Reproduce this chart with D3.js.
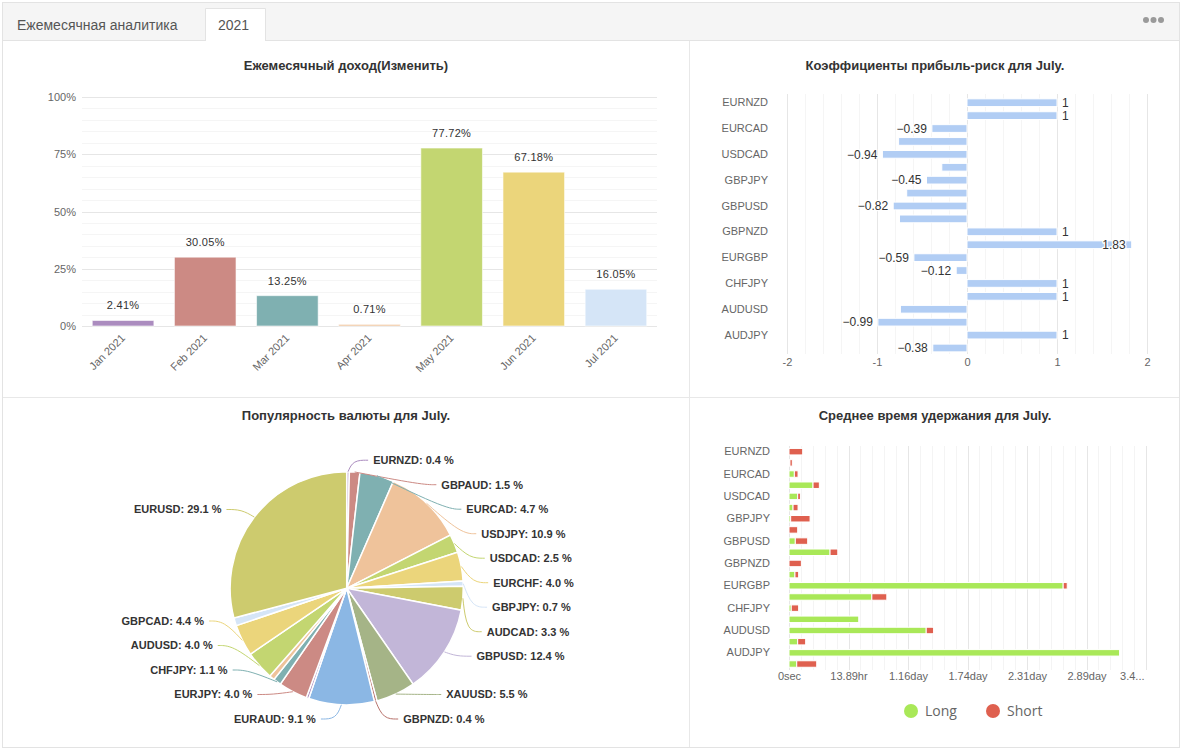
<!DOCTYPE html>
<html><head><meta charset="utf-8">
<script src="https://cdn.jsdelivr.net/npm/d3@7"></script>
<style>
html,body{margin:0;padding:0;background:#fff;}
svg{display:block;font-family:Arial,"Liberation Sans",sans-serif;}
</style></head><body>
<svg id="chart" width="1181" height="749"></svg>
<script>
// ---------------- DATA ----------------
const months = ["Jan 2021","Feb 2021","Mar 2021","Apr 2021","May 2021","Jun 2021","Jul 2021"];
const monthlyGain = [2.41, 30.05, 13.25, 0.71, 77.72, 67.18, 16.05];
const gainTicks = [0, 25, 50, 75, 100];

const pairs = ["EURNZD","GBPAUD","EURCAD","USDJPY","USDCAD","EURCHF","GBPJPY","AUDCAD","GBPUSD","XAUUSD",
               "GBPNZD","EURAUD","EURGBP","EURJPY","CHFJPY","NZDUSD","AUDUSD","GBPCAD","AUDJPY","EURUSD"];
const riskRatio = [1, 1, -0.39, -0.76, -0.94, -0.28, -0.45, -0.67, -0.82, -0.75,
                   1, 1.83, -0.59, -0.12, 1, 1, -0.74, -0.99, 1, -0.38];
const riskTicks = [-2, -1, 0, 1, 2];

const tradeCounts = [1, 4, 13, 30, 7, 11, 2, 9, 34, 15, 1, 25, 1, 11, 3, 2, 11, 12, 3, 80];
const hiddenPieLabels = ["EURGBP", "NZDUSD", "AUDJPY"];

const holdLong  = [0, 800, 4500, 20200, 7300, 3400, 1400, 0, 5300, 34500,
                   0, 5000, 230400, 69600, 1900, 58600, 115300, 7300, 277800, 6500];
const holdShort = [11500, 2000, 3100, 5300, 2300, 4200, 16300, 7300, 10400, 6500,
                   10400, 3100, 3400, 12600, 6200, 0, 6200, 6700, 0, 16800];
const holdTicks = [0, 50000, 100000, 150000, 200000, 250000, 300000];
const holdTickLabels = ["0sec","13.89hr","1.16day","1.74day","2.31day","2.89day","3.4..."];
const holdSeries = ["Long", "Short"];

const palette = ["#ab8cbf","#cc8a84","#7fb0b1","#efc39b","#c3d671","#ebd57b",
                 "#d5e5f7","#cdcb6e","#c2b6d8","#a5b487","#b8736c","#8bb7e4"];
const riskColor = "#b1cdf4";
const holdColors = ["#a9e858", "#df604f"];

// ---------------- FRAME ----------------
const svg = d3.select("#chart");
svg.append("rect").attr("x",2.5).attr("y",2.5).attr("width",1177).attr("height",745)
  .attr("fill","#fff").attr("stroke","#e3e3e3");
svg.append("rect").attr("x",3).attr("y",3).attr("width",1176).attr("height",37).attr("fill","#f5f5f5");
svg.append("line").attr("x1",3).attr("x2",1179).attr("y1",40.5).attr("y2",40.5).attr("stroke","#e3e3e3");
svg.append("path").attr("d","M205.5,41 V8.5 H265.5 V41").attr("fill","#fff").attr("stroke","#e3e3e3");
svg.append("rect").attr("x",206).attr("y",9).attr("width",59).attr("height",33).attr("fill","#fff");
svg.append("text").attr("x",17).attr("y",30).attr("font-size",14).attr("fill","#555").text("Ежемесячная аналитика");
svg.append("text").attr("x",218).attr("y",30).attr("font-size",14).attr("fill","#555").text("2021");
[1146,1153.5,1161].forEach(x=>svg.append("circle").attr("cx",x).attr("cy",20).attr("r",3).attr("fill","#9a9a9a"));
svg.append("line").attr("x1",689.5).attr("x2",689.5).attr("y1",41).attr("y2",747).attr("stroke","#e8e8e8");
svg.append("line").attr("x1",3).attr("x2",1179).attr("y1",397.5).attr("y2",397.5).attr("stroke","#e8e8e8");

function title(x, y, t){
  svg.append("text").attr("x",x).attr("y",y).attr("text-anchor","middle")
    .attr("font-size",13).attr("font-weight","bold").attr("fill","#333").text(t);
}
title(346, 70, "Ежемесячный доход(Изменить)");
title(935, 70, "Коэффициенты прибыль-риск для July.");
title(346, 420, "Популярность валюты для July.");
title(935, 420, "Среднее время удержания для July.");

function styleAxis(sel){
  sel.attr("color","#666");
  sel.select(".domain").remove();
  sel.selectAll("text").attr("font-size",11).attr("fill","#666").attr("font-family","Arial");
}

// ---------------- MONTHLY GAIN ----------------
{
  const g = svg.append("g");
  const x = d3.scaleBand().domain(months).range([82,657]).paddingInner(0.25).paddingOuter(0.125);
  const y = d3.scaleLinear().domain([0,100]).range([326,97]);
  g.selectAll("line.grid").data(d3.range(0,101,5)).join("line")
    .attr("x1",82).attr("x2",657).attr("y1",d=>Math.round(y(d))+0.5).attr("y2",d=>Math.round(y(d))+0.5)
    .attr("stroke",d=>d%25===0?"#e6e6e6":"#f5f5f5");
  const ya = g.append("g").attr("transform","translate(82,0)")
    .call(d3.axisLeft(y).tickValues(gainTicks).tickFormat(d=>d+"%").tickSize(0).tickPadding(6));
  styleAxis(ya);
  const xa = g.append("g").attr("transform","translate(0,326)")
    .call(d3.axisBottom(x).tickSize(0));
  styleAxis(xa);
  xa.selectAll("text").attr("text-anchor","end").attr("y",0).attr("dy","0.35em")
    .attr("transform","translate(0,10) rotate(-45)");
  g.selectAll("rect.bar").data(monthlyGain).join("rect")
    .attr("x",(d,i)=>x(months[i])).attr("width",x.bandwidth())
    .attr("y",d=>y(d)).attr("height",d=>y(0)-y(d))
    .attr("fill",(d,i)=>palette[i%palette.length])
    .attr("stroke","#fff").attr("stroke-opacity",0.6);
  g.selectAll("text.val").data(monthlyGain).join("text")
    .attr("x",(d,i)=>x(months[i])+x.bandwidth()/2).attr("y",d=>y(d)-11)
    .attr("text-anchor","middle").attr("font-size",11).attr("letter-spacing","0.3px")
    .attr("fill","#333").text(d=>d.toFixed(2)+"%");
}

// ---------------- RISK RATIO ----------------
{
  const g = svg.append("g");
  const x = d3.scaleLinear().domain([-2,2]).range([787,1147]);
  const y = d3.scaleBand().domain(pairs).range([96.25,354.45]).paddingInner(0.4).paddingOuter(0.2);
  g.selectAll("line.grid").data(d3.range(-10,11)).join("line")
    .attr("x1",d=>Math.round(x(d/5))+0.5).attr("x2",d=>Math.round(x(d/5))+0.5)
    .attr("y1",94).attr("y2",354)
    .attr("stroke",d=>d%5===0?"#e6e6e6":"#f5f5f5");
  const ya = g.append("g").attr("transform","translate(787,0)")
    .call(d3.axisLeft(y).tickValues(pairs.filter((d,i)=>i%2===0)).tickSize(0).tickPadding(19));
  styleAxis(ya);
  const xa = g.append("g").attr("transform","translate(0,354)")
    .call(d3.axisBottom(x).tickValues(riskTicks).tickFormat(d=>String(d)).tickSize(0).tickPadding(4));
  styleAxis(xa);
  g.selectAll("rect.bar").data(riskRatio).join("rect")
    .attr("x",d=>Math.min(x(0),x(d))).attr("width",d=>Math.abs(x(d)-x(0)))
    .attr("y",(d,i)=>y(pairs[i])).attr("height",y.bandwidth())
    .attr("fill",riskColor).attr("stroke","#fff").attr("stroke-width",1);
  // labels
  const fmt = v => (v<0?"\u2212":"") + String(+Math.abs(v).toFixed(2));
  const labs = g.selectAll("text.val").data(riskRatio).join("text")
    .attr("font-size",12).attr("fill","#333").attr("font-family","Arial")
    .attr("stroke","#fff").attr("stroke-width",2.5).attr("paint-order","stroke").attr("stroke-linejoin","round")
    .attr("dy","0.35em").attr("y",(d,i)=>y(pairs[i])+y.bandwidth()/2).text(fmt);
  const info = [];
  labs.each(function(d,i){
    const w = this.getComputedTextLength();
    let x1, x2, anchor;
    if (d >= 0){
      const end = x(d) + 5 + w;
      if (end > x.range()[1]) { x2 = x(d) - 6; x1 = x2 - w; anchor = "end"; }
      else { x1 = x(d) + 5; x2 = end; anchor = "start"; }
    } else { x2 = x(d) - 5; x1 = x2 - w; anchor = "end"; }
    const cy = y(pairs[i]) + y.bandwidth()/2;
    d3.select(this).attr("x", anchor==="start"?x1:x2).attr("text-anchor",anchor);
    info.push({i, v:d, x1, x2, y1:cy-7, y2:cy+7, el:this});
  });
  // hide overlapping labels of negative bars (longest bars win)
  const placed = [];
  info.filter(d=>d.v<0).sort((a,b)=>Math.abs(b.v)-Math.abs(a.v)).forEach(d=>{
    const hit = placed.some(p=>d.x1<p.x2 && d.x2>p.x1 && d.y1<p.y2 && d.y2>p.y1);
    if (hit) d3.select(d.el).remove(); else placed.push(d);
  });
}

// ---------------- PIE ----------------
{
  const g = svg.append("g");
  const cx = 346.7, cy = 588.3, R = 116.6, len = 10, len2 = 15, gapT = 5, lineH = 24.5, maxY = 719;
  const arcs = d3.pie().sort(null).value(d=>d)(tradeCounts);
  const arc = d3.arc().innerRadius(0).outerRadius(R);
  g.selectAll("path.slice").data(arcs).join("path")
    .attr("transform",`translate(${cx},${cy})`).attr("d",arc)
    .attr("fill",(d,i)=>palette[i%palette.length]).attr("stroke","#fff").attr("stroke-width",1.5);
  const total = d3.sum(tradeCounts);
  const items = arcs.map((a,i)=>{
    const mid = (a.startAngle+a.endAngle)/2, sx = Math.sin(mid), sy = -Math.cos(mid);
    return {i, name:pairs[i], pct: tradeCounts[i]/total*100, mid, dir: sx<0?-1:1,
      x0: cx+R*sx, y0: cy+R*sy, origDx: Math.abs((R+len)*sx)+gapT,
      natDx: Math.abs((R+len)*sx), y: cy+(R+len)*sy - 1.5, color: palette[i%palette.length]};
  }).filter(d=>!hiddenPieLabels.includes(d.name));
  [1,-1].forEach(dir=>{
    const side = items.filter(d=>d.dir===dir).sort((a,b)=>a.y-b.y);
    let shifted = false;
    for (let k=1;k<side.length;k++){
      const need = side[k-1].y + lineH;
      if (side[k].y < need){ side[k].y = need; shifted = true; }
    }
    const n = side.length;
    if (n && side[n-1].y > maxY){
      side[n-1].y = maxY; shifted = true;
      for (let k=n-2;k>=0;k--) side[k].y = Math.min(side[k].y, side[k+1].y - lineH);
    }
    side.forEach(d=>d.dxE = d.natDx);
    if (shifted){
      const rA = R + len;
      [side.filter(d=>d.y<=cy), side.filter(d=>d.y>cy)].forEach(semi=>{
        if (!semi.length) return;
        const ext = semi.reduce((m,d)=>Math.abs(d.y-cy)>=Math.abs(m.y-cy)?d:m);
        const edy = Math.abs(ext.y-cy);
        const rB = ext.origDx < rA ? Math.sqrt(edy*edy/(1-ext.origDx*ext.origDx/(rA*rA))) : rA;
        semi.forEach(d=>{ const dy = Math.abs(d.y-cy); d.dxE = Math.sqrt(Math.max(0,1-dy*dy/(rB*rB)))*rA; });
      });
    }
  });
  const line = d3.line().curve(d3.curveBasis);
  items.forEach(d=>{
    const p1x = cx + d.dir*d.dxE, p2x = cx + d.dir*(d.dxE+len2);
    g.append("path").attr("d", line([[d.x0,d.y0],[p1x,d.y],[p2x,d.y]]))
      .attr("fill","none").attr("stroke",d.color).attr("stroke-width",1);
    g.append("text").attr("x", cx + d.dir*(d.dxE+len2+gapT)).attr("y", d.y).attr("dy","0.35em")
      .attr("text-anchor", d.dir>0?"start":"end").attr("font-size",11).attr("font-weight","bold")
      .attr("fill","#333").text(`${d.name}: ${d.pct.toFixed(1)} %`);
  });
}

// ---------------- HOLDING TIME ----------------
{
  const g = svg.append("g");
  const x = d3.scaleLinear().domain([0,300000]).range([789,1146]);
  const y = d3.scaleBand().domain(pairs).range([446.1,669.6]).paddingInner(0.42).paddingOuter(0.21);
  g.selectAll("line.grid").data(d3.range(0,300001,10000)).join("line")
    .attr("x1",d=>Math.round(x(d))+0.5).attr("x2",d=>Math.round(x(d))+0.5)
    .attr("y1",446).attr("y2",670)
    .attr("stroke",d=>d%50000===0?"#e6e6e6":"#f4f4f4");
  const ya = g.append("g").attr("transform","translate(789,0)")
    .call(d3.axisLeft(y).tickValues(pairs.filter((d,i)=>i%2===0)).tickSize(0).tickPadding(19));
  styleAxis(ya);
  const xa = g.append("g").attr("transform","translate(0,670)")
    .call(d3.axisBottom(x).tickValues(holdTicks).tickFormat((d,i)=>holdTickLabels[i]).tickSize(0).tickPadding(2));
  styleAxis(xa);
  xa.selectAll(".tick:last-of-type text").attr("text-anchor","end").attr("x",-2);
  const rows = pairs.map((p,i)=>({pair:p, Long:holdLong[i], Short:holdShort[i]}));
  const stacked = d3.stack().keys(holdSeries)(rows);
  g.selectAll("g.s").data(stacked).join("g").attr("fill",(d,i)=>holdColors[i])
    .selectAll("rect").data(d=>d.filter(e=>e[1]>e[0])).join("rect")
    .attr("x",d=>x(d[0])).attr("width",d=>x(d[1])-x(d[0]))
    .attr("y",d=>y(d.data.pair)).attr("height",y.bandwidth())
    .attr("stroke","#fff").attr("stroke-width",1);
  // legend
  const lg = g.append("g");
  holdSeries.forEach((s,i)=>{
    const lx = 911 + i*82;
    lg.append("circle").attr("cx",lx).attr("cy",711).attr("r",7).attr("fill",holdColors[i]);
    lg.append("text").attr("x",lx+14).attr("y",711).attr("dy","0.35em").attr("font-size",14)
      .attr("font-family","'Open Sans',Arial").attr("fill","#666").text(s);
  });
}
</script>
</body></html>
